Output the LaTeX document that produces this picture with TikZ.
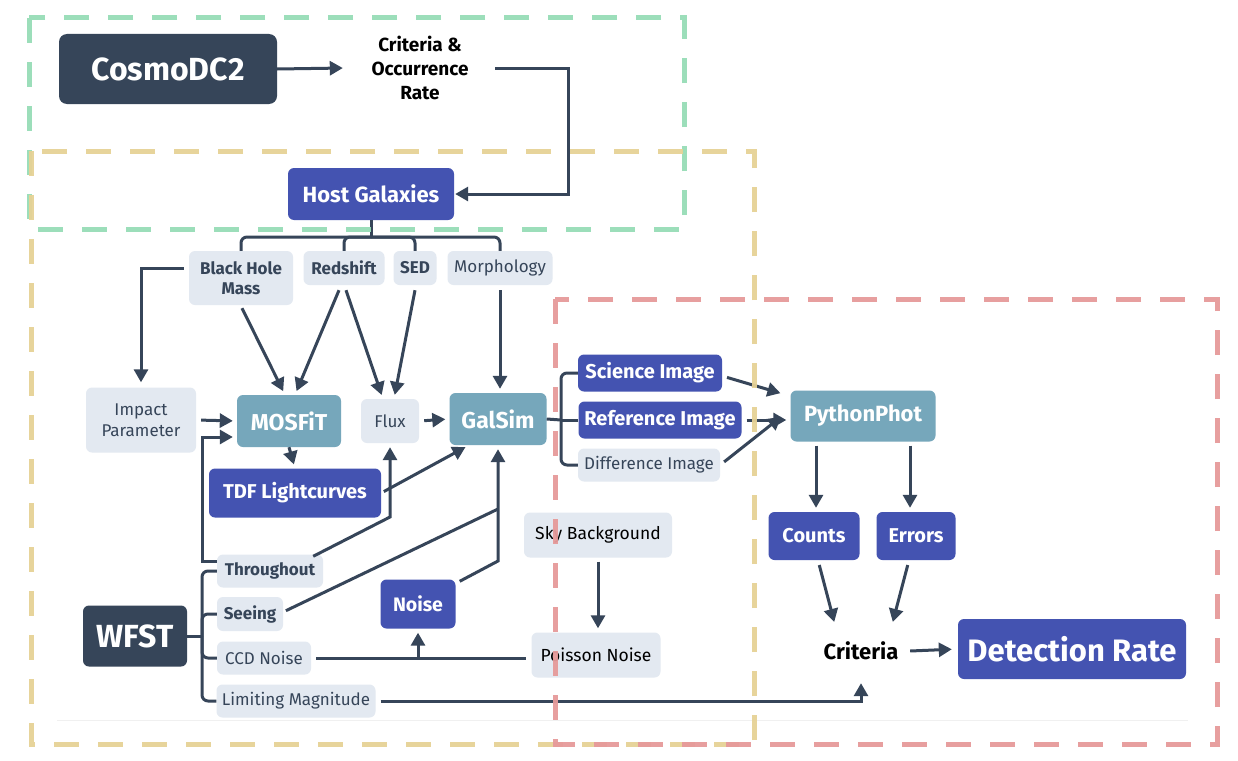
\documentclass[tikz,border=0pt]{standalone}
\usepackage{fontspec}
\setmainfont{Fira Sans}
\usetikzlibrary{arrows.meta,calc}
\definecolor{cdark}{HTML}{364559}
\definecolor{cindigo}{HTML}{4453B1}
\definecolor{cteal}{HTML}{76A7BB}
\definecolor{clight}{HTML}{E3E9F1}
\definecolor{cline}{HTML}{364559}
\definecolor{fgreen}{HTML}{97DDB7}
\definecolor{fyellow}{HTML}{E6D296}
\definecolor{fred}{HTML}{E69A9A}
\newcommand\fz[1]{\fontsize{#1}{#1}\selectfont}
\tikzset{
  bx/.style={rounded corners=6pt, inner sep=0pt, align=center},
  darkbox/.style={bx, fill=cdark, text=white, font=\bfseries},
  indbox/.style={bx, fill=cindigo, text=white, font=\bfseries},
  tealbox/.style={bx, fill=cteal, text=white, font=\bfseries},
  lightbox/.style={bx, fill=clight, text=cdark},
  plain/.style={inner sep=0pt, align=center, text=black, font=\bfseries},
  conn/.style={draw=cline, line width=3pt},
  arr/.style={conn, -{Triangle[length=13pt,width=14pt]}, shorten >=4pt},
  frame/.style={line width=5pt, dash pattern=on 25pt off 19pt},
}
\begin{document}
\begin{tikzpicture}[x=1pt,y=-1pt]
\useasboundingbox (0,0) rectangle (1238,760);
\fill[white] (0,0) rectangle (1238,760);
\draw[color=black!6, line width=1pt] (57,720) -- (1188,720);

% nodes
\node[darkbox, minimum width=218, minimum height=70, rounded corners=8pt, font=\bfseries\fz{32}] (cosmo) at (168,69) {CosmoDC2};
\node[plain, minimum width=150, font=\bfseries\fz{19}, align=center] (crit1) at (420,68) {Criteria \&\\[5pt]Occurrence\\[5pt]Rate};
\node[indbox, minimum width=166, minimum height=52, font=\bfseries\fz{22}] (host) at (371,194) {Host Galaxies};

\node[lightbox, minimum width=104, minimum height=54, font=\bfseries\fz{17}] (bhm) at (241,278) {Black Hole\\[3pt]Mass};
\node[lightbox, minimum width=81, minimum height=34, font=\bfseries\fz{17}] (red) at (344,268) {Redshift};
\node[lightbox, minimum width=43, minimum height=34, font=\bfseries\fz{17}] (sed) at (415,268) {SED};
\node[lightbox, minimum width=105, minimum height=34, font=\fz{17}] (morph) at (500,268) {Morphology};

\node[lightbox, minimum width=110, minimum height=65, font=\fz{17}] (imp) at (141,420) {Impact\\[4pt]Parameter};
\node[tealbox, minimum width=104, minimum height=52, font=\bfseries\fz{23}] (mosfit) at (289,421) {MOSFiT};
\node[lightbox, minimum width=58, minimum height=44, font=\fz{17}] (flux) at (390,421) {Flux};
\node[tealbox, minimum width=97, minimum height=52, font=\bfseries\fz{23}] (galsim) at (498,419) {GalSim};
\node[indbox, minimum width=172, minimum height=49, font=\bfseries\fz{20}] (tdf) at (295,493) {TDF Lightcurves};

\node[darkbox, minimum width=104, minimum height=61, font=\bfseries\fz{32}] (wfst) at (135,636) {WFST};
\node[lightbox, minimum width=106, minimum height=33, font=\bfseries\fz{17}] (thr) at (270,571) {Throughout};
\node[lightbox, minimum width=66, minimum height=34, font=\bfseries\fz{17}] (see) at (250,614) {Seeing};
\node[lightbox, minimum width=94, minimum height=33, font=\fz{17}] (ccd) at (264,658) {CCD Noise};
\node[lightbox, minimum width=159, minimum height=33, font=\fz{17}] (lim) at (296,701) {Limiting Magnitude};
\node[indbox, minimum width=75, minimum height=49, font=\bfseries\fz{19.5}] (noise) at (418,604) {Noise};
\node[lightbox, minimum width=148, minimum height=45, font=\fz{17.5}, text=black] (sky) at (598,535) {Sky Background};
\node[lightbox, minimum width=129, minimum height=45, font=\fz{17.5}, text=black] (poi) at (596,655) {Poisson Noise};

\node[indbox, minimum width=144, minimum height=37, font=\bfseries\fz{20}] (sci) at (650,373) {Science Image};
\node[indbox, minimum width=163, minimum height=37, font=\bfseries\fz{20}] (ref) at (660,420) {Reference Image};
\node[lightbox, minimum width=142, minimum height=33, font=\fz{17}] (diff) at (649,465) {Difference Image};
\node[tealbox, minimum width=145, minimum height=51, font=\bfseries\fz{22}] (pyp) at (863,416) {PythonPhot};
\node[indbox, minimum width=91, minimum height=48, font=\bfseries\fz{20}] (counts) at (814,536) {Counts};
\node[indbox, minimum width=79, minimum height=48, font=\bfseries\fz{20}] (errors) at (916,536) {Errors};
\node[plain, minimum width=98, minimum height=52, font=\bfseries\fz{22}] (crit) at (861,651) {Criteria};
\node[indbox, minimum width=228, minimum height=60, font=\bfseries\fz{31}] (det) at (1072,649) {Detection Rate};

% helper coordinates
\coordinate (hb) at (371,237);
\coordinate (tf) at (390,517);
\coordinate (sg) at (498,509);
\coordinate (ng) at (498,561);
\coordinate (gt) at (561,420);
\coordinate (wt) at (202,636);

% top
\draw[arr, shorten >=2pt] (cosmo.east) -- (crit1.west);
\draw[arr, shorten >=1pt] (crit1.east) -- ++(73,0) |- (host.east);

% host tree
\draw[conn] (host.south) -- (hb);
\draw[conn, rounded corners=6pt] (bhm.north) |- (hb);
\draw[conn, rounded corners=6pt] (red.north) |- (hb);
\draw[conn, rounded corners=6pt] (sed.north) |- (hb);
\draw[conn, rounded corners=6pt] (morph.north) |- (hb);

% row -> middle
\draw[arr, shorten >=5pt] ([xshift=-5pt,yshift=10pt]bhm.west) -| (imp.north);
\draw[arr] ([xshift=1pt,yshift=-3pt]bhm.south) -- ([xshift=-4pt]mosfit.north);
\draw[arr] ([xshift=-5pt,yshift=-5pt]red.south) -- ([xshift=6pt]mosfit.north);
\draw[arr] ([xshift=2pt,yshift=-5pt]red.south) -- ([xshift=-7pt]flux.north);
\draw[arr] ([yshift=-5pt]sed.south) -- ([xshift=4pt]flux.north);
\draw[arr] ([yshift=-5pt]morph.south) -- (morph.south |- galsim.north);

\draw[arr, shorten <=5pt] (imp.east) -- (mosfit.west);
\draw[arr] ([yshift=10pt]thr.west) -- ++(-14,0) |- ([yshift=-16pt]mosfit.west);
\draw[arr] (mosfit.south) -- (tdf.north);
\draw[arr, shorten <=5pt] (flux.east) -- (galsim.west);
\draw[arr, shorten <=3pt] (tdf.east) -- ([xshift=-29pt]galsim.south);
\draw[arr] ([xshift=-10pt,yshift=-2pt]thr.north east) -- (tf) -- (flux.south);
\draw[conn, shorten <=3pt] ([yshift=2pt]see.east) -- (sg);
\draw[arr] ([xshift=4pt,yshift=-2pt]noise.north east) -- (ng) -- (galsim.south);

% WFST tree
\draw[conn] (wfst.east) -- (wt);
\draw[conn, rounded corners=6pt] (thr.west) -| (wt);
\draw[conn, rounded corners=6pt] (see.west) -| (wt);
\draw[conn, rounded corners=6pt] (ccd.west) -| (wt);
\draw[conn, rounded corners=6pt] (lim.west) -| (wt);

% noise
\draw[conn, shorten <=5pt, shorten >=5pt] (ccd.east) -- (ccd.east -| poi.west);
\draw[arr] (noise.south |- ccd.east) -- (noise.south);
\draw[arr, shorten <=4pt] (sky.south) -- (sky.south |- poi.north);
\draw[arr, shorten <=5pt, shorten >=6pt] (lim.east) -| (crit.south);

% images
\draw[conn] (galsim.east) -- (gt);
\draw[conn, rounded corners=6pt] (sci.west) -| (gt);
\draw[conn, rounded corners=6pt] (diff.west) -| (gt);
\draw[conn] (ref.west) -- (gt);
\draw[arr, shorten <=5pt] ([yshift=-3pt]sci.east) -- ([xshift=-6pt,yshift=-4pt]pyp.north west);
\draw[arr, shorten <=5pt] (ref.east) -- (ref.east -| pyp.west);
\draw[arr, shorten <=5pt] (diff.east) -- ([xshift=-6pt,yshift=-24pt]pyp.north west);
\draw[arr, shorten <=4pt] ([xshift=2pt]pyp.south -| counts.north) -- ([xshift=2pt]counts.north);
\draw[arr, shorten <=4pt] ([xshift=-6pt]pyp.south -| errors.north) -- ([xshift=-6pt]errors.north);
\draw[arr, shorten <=5pt, shorten >=3pt] ([xshift=4pt]counts.south) -- ([xshift=-26pt]crit.north);
\draw[arr, shorten <=5pt, shorten >=3pt] ([xshift=-7pt]errors.south) -- ([xshift=31pt]crit.north);
\draw[arr, shorten >=6pt] (crit.east) -- (det.west);

% frames
\draw[frame, fgreen, opacity=0.95] (29,18) rectangle (684,229);
\draw[frame, fyellow, opacity=0.95] (31,151) rectangle (754,744);
\draw[frame, fred, opacity=0.95] (555,299) rectangle (1217,744);
\end{tikzpicture}
\end{document}
